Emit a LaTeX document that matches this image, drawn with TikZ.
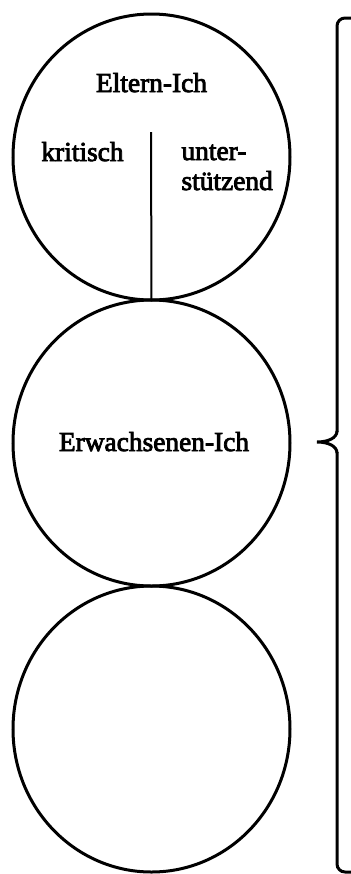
\documentclass[tikz,border=0pt]{standalone}
\usepackage{fontspec}
\setmainfont[FakeBold=3]{Liberation Serif}
\usetikzlibrary{positioning,shapes.geometric}

\begin{document}
\begin{tikzpicture}[x=0.5pt,y=-0.5pt,line width=1.5pt,node distance=0pt,
  ich/.style={draw,ellipse,minimum width=138.5pt,minimum height=143pt,inner sep=0pt,outer sep=0pt},
  lbl/.style={font=\fontsize{13.7}{15}\selectfont,inner sep=0pt}]
\useasboundingbox (0,0) rectangle (351,874);
% the three ego states
\node[ich] (eltern) at (151.5,157) {};
\node[ich,below=of eltern] (erw) {};
\node[ich,below=of erw] (kind) {};
\node[lbl,anchor=base] (eltlbl) at (151.5,92) {Eltern-Ich};
\node[lbl,anchor=base] (krit) at (82.5,161) {kritisch};
\node[lbl,anchor=base west,align=left] (unter) at (180,190) {unter-\\stützend};
\node[lbl,anchor=base] (erwlbl) at (154,451) {Erwachsenen-Ich};
% split of the parent state
\coordinate (split) at (151,132);
\draw[line width=1pt] (split) -- (eltern.south);
% brace
\coordinate (brtop) at (353,18);
\coordinate (tip) at (317,442);
\coordinate (brbot) at (353,872);
\draw[rounded corners=4pt] (brtop) -| (337,432);
\draw (337,431) .. controls (337,438) and (328,442) .. (tip) .. controls (328,442) and (337,446) .. (337,453);
\draw[rounded corners=4pt] (337,452) |- (brbot);
\end{tikzpicture}
\end{document}
